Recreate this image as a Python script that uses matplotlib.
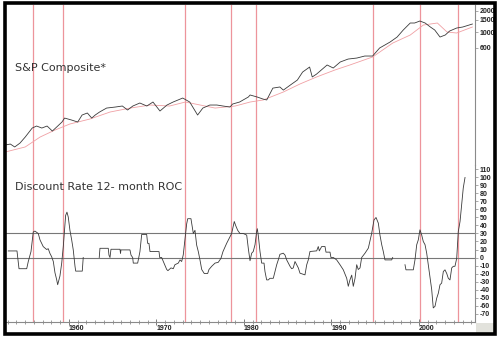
import numpy as np
import matplotlib
matplotlib.use("Agg")
import matplotlib.pyplot as plt
from matplotlib.patches import Rectangle

# ---------------- data ----------------
sp_years = [1952.7, 1953.3, 1953.8, 1954.4, 1955.0, 1955.8, 1956.3, 1956.9, 1957.5, 1958.1,
            1958.6, 1959.2, 1959.5, 1960.3, 1961.0, 1961.5, 1962.1, 1962.6, 1963.0, 1963.5,
            1964.3, 1965.3, 1966.1, 1966.7, 1967.3, 1968.1, 1968.9, 1969.6, 1970.4, 1971.2,
            1971.9, 1973.0, 1973.8, 1974.7, 1975.3, 1976.1, 1976.9, 1977.6, 1978.4, 1978.7,
            1979.5, 1980.5, 1980.7, 1981.5, 1982.2, 1982.6, 1983.3, 1984.1, 1984.5, 1985.3,
            1986.1, 1986.7, 1987.5, 1987.8, 1988.3, 1989.5, 1990.2, 1991.0, 1991.9, 1992.9,
            1993.8, 1994.7, 1995.5, 1996.7, 1997.5, 1998.2, 1999.0, 1999.5, 2000.1, 2000.7,
            2001.3, 2001.8, 2002.4, 2003.0, 2003.5, 2004.3, 2005.0, 2006.1]
sp_values = [24.3, 25.1, 22.8, 25.9, 31.6, 42.5, 45.4, 42.5, 45.4, 38.5,
             44.0, 51.8, 59.0, 55.3, 51.8, 65.2, 69.7, 59.0, 65.2, 72.0,
             82.0, 84.8, 87.7, 76.9, 87.7, 96.8, 87.7, 100.0, 74.4, 90.6,
             100.0, 114.0, 100.0, 65.2, 82.0, 90.6, 90.6, 87.7, 84.8, 93.6,
             100.0, 118.0, 126.0, 118.0, 110.0, 107.0, 158.0, 164.0, 148.0, 175.0,
             206.0, 268.0, 316.0, 228.0, 251.0, 338.0, 306.0, 373.0, 411.0, 425.0,
             454.0, 454.0, 591.0, 720.0, 848.0, 1068.0, 1345.0, 1345.0, 1436.0, 1345.0,
             1179.0, 1068.0, 848.0, 906.0, 1033.0, 1140.0, 1179.0, 1301.0]

ma_years = [1952.7, 1955.0, 1956.7, 1958.4, 1960.1, 1962.4, 1964.7, 1967.0, 1969.3, 1971.5,
            1973.3, 1975.0, 1976.7, 1979.0, 1980.7, 1982.2, 1984.5, 1986.4, 1988.3, 1990.4,
            1992.1, 1994.7, 1997.0, 1999.0, 2000.5, 2002.1, 2003.2, 2004.3, 2006.1]
ma_values = [19.3, 22.8, 31.6, 39.8, 48.5, 57.2, 72.0, 82.0, 90.6, 87.7,
             100.0, 90.6, 82.0, 87.7, 100.0, 107.0, 139.0, 181.0, 228.0, 287.0,
             338.0, 440.0, 696.0, 906.0, 1259.0, 1345.0, 1000.0, 968.0, 1179.0]

roc_years = [1953.06, 1954.02, 1954.06, 1954.29, 1955.17, 1955.35, 1955.66, 1955.92, 1956.11, 1956.49,
             1956.69, 1957.06, 1957.45, 1957.63, 1957.83, 1958.02, 1958.21, 1958.40, 1958.59, 1958.71,
             1958.97, 1959.17, 1959.35, 1959.62, 1959.77, 1959.92, 1960.11, 1960.31, 1960.49, 1960.69,
             1960.77, 1961.52, 1961.63, 1962.5,
             1963.46, 1963.54, 1964.49, 1964.57, 1964.69, 1964.80, 1965.83, 1965.89, 1965.94, 1966.97,
             1967.09, 1967.28, 1967.35, 1967.85, 1968.11, 1968.31, 1968.88, 1968.99, 1969.14, 1969.26,
             1970.29, 1970.37, 1970.59, 1970.86, 1971.17, 1971.31, 1971.66, 1971.92, 1972.11, 1972.49,
             1972.69, 1972.88, 1973.06, 1973.45, 1973.57, 1973.94, 1974.09, 1974.21, 1974.40, 1974.59,
             1974.78, 1974.97, 1975.17, 1975.46, 1975.85, 1976.00, 1976.31, 1976.69, 1977.06, 1977.37,
             1977.60, 1978.02, 1978.40, 1978.59, 1978.89, 1979.05, 1979.28, 1979.54, 1979.92, 1980.31,
             1980.51, 1980.69, 1980.88, 1981.06, 1981.26, 1981.45, 1981.52, 1981.63, 1981.83, 1982.02,
             1982.29, 1982.40, 1982.59, 1982.78, 1982.97, 1983.35, 1983.54, 1983.74, 1983.92, 1984.11,
             1984.49, 1984.69, 1984.88, 1985.26, 1985.45, 1985.63, 1985.83, 1986.02, 1986.21, 1986.40,
             1986.97, 1987.17, 1987.35, 1987.54, 1988.31, 1988.49, 1988.61, 1988.88, 1989.26, 1989.37,
             1989.83, 1989.94, 1990.21, 1990.59, 1990.97, 1991.35, 1991.74, 1991.92, 1992.11, 1992.31,
             1992.49, 1992.69, 1992.88, 1993.06, 1993.26, 1993.45, 1993.83, 1994.21, 1994.59, 1994.86,
             1995.09, 1995.35, 1995.54, 1995.74, 1995.92, 1996.11, 1996.88, 1996.99, 1997.7,
             1998.40, 1998.51, 1999.35, 1999.54, 1999.74, 1999.92, 2000.11, 2000.31, 2000.49, 2000.69,
             2000.88, 2001.06, 2001.26, 2001.45, 2001.63, 2001.83, 2002.02, 2002.21, 2002.40, 2002.59,
             2002.78, 2002.97, 2003.17, 2003.35, 2003.54, 2003.74, 2003.92, 2004.11, 2004.31, 2004.49,
             2004.69, 2004.88, 2005.06, 2005.26]
roc_values = [8.2, 8.2, 8.2, -14, -14, -5, 7.4, 32, 33, 30,
              22, 13.6, 10, 11, 5, 1, -5, -19, -27.5, -34,
              -23, -7, 13.6, 52.6, 56.7, 50.5, 34, 22, 9.5, -11,
              -17, -17, 0, np.nan,
              0, 11.5, 11.5, 3, 0, 10.3, 10.3, 5, 9.5, 9.5,
              3, 0, -7, -7, 7.4, 28.8, 28.8, 17.7, 17.7, 7.4,
              7.4, 0, 0, -7, -15, -16.4, -13, -14, -9, -7,
              -3, -5, 3.3, 42, 48.5, 48.5, 38, 30, 34, 15.6,
              7.4, -3, -15, -20, -20, -15, -11, -7, -6, -1,
              7.4, 17.7, 26, 30, 45, 40, 34, 30, 30, 28,
              10, -4, 5.4, 7.5, 16, 32.5, 36, 28, 7.5, -7,
              -7, -17.5, -28, -28, -26, -26, -17.5, -9, -3, 4,
              5.4, 3, -3, -11, -14, -13, -5, -9, -13, -19.6,
              -21.7, -9, -3, 7.5, 8.3, 13.7, 8.3, 13.7, 13.7, 6.7,
              6.7, 0, 0, -3, -9, -15.4, -26, -36, -28, -22,
              -36, -26, -9, -15, -13, 0, 5.4, 11.7, 30, 47,
              50, 43, 28, 16, 7.5, -3, -3, 0, np.nan,
              -9, -15.4, -15.4, -3, 16, 22, 34.6, 28, 20, 16,
              5.4, -9, -26, -40, -63, -61, -51, -44.6, -34, -32,
              -17.5, -15.4, -20, -26, -28, -13, -11, -11, -1, 32.5,
              45, 66, 87, 100]

signal_years = [1955.89, 1959.31, 1973.26, 1978.51, 1981.37, 1994.74, 2000.11, 2004.46]
ref_levels = [0, 30]

sp_ticks = [2000, 1500, 1000, 600]
sp_ticklabels = ["2000", "1500", "1000", "600"]
roc_ticks = list(range(-70, 111, 10))
year_ticks = [1960, 1970, 1980, 1990, 2000]

# ---------------- figure ----------------
W, H = 500, 337
fig = plt.figure(figsize=(W / 100, H / 100), dpi=100)
fig.patch.set_facecolor("white")

def fx(px):
    return px / W

def fy(py):
    return 1 - py / H

left, right = 5, 475
ax_top = fig.add_axes([fx(left), fy(165), fx(right - left), (165 - 5) / H])
ax_bot = fig.add_axes([fx(left), fy(322), fx(right - left), (322 - 165) / H])

xlim = (1952.69, 2006.40)
line_col = "#3a3a3a"
red_col = "#e8707a"
tick_font = dict(family="Liberation Sans", size=5, weight="bold")

for ax in (ax_top, ax_bot):
    ax.set_xlim(*xlim)
    ax.set_facecolor("none")
    for s in ("left", "top"):
        ax.spines[s].set_visible(False)
    ax.spines["right"].set_color("#8a8a8a")
    ax.spines["right"].set_linewidth(0.8)
    ax.yaxis.tick_right()
    ax.tick_params(axis="y", which="both", direction="out", length=2, width=0.5,
                   colors="#888888", labelcolor="#222222", pad=1.5)
    for yv in signal_years:
        ax.axvline(yv, color=red_col, lw=0.9, alpha=0.75, zorder=1)

# top panel
ax_top.spines["bottom"].set_visible(False)
ax_top.set_yscale("log")
ax_top.set_ylim(12.6, 2432)
ax_top.plot(ma_years, ma_values, color="#f0a0a4", lw=0.6, zorder=2)
ax_top.plot(sp_years, sp_values, color=line_col, lw=0.6, zorder=3)
ax_top.set_yticks(sp_ticks)
ax_top.set_yticklabels(sp_ticklabels)
ax_top.yaxis.set_minor_locator(matplotlib.ticker.NullLocator())
ax_top.set_xticks([])
for lbl in ax_top.get_yticklabels():
    lbl.set_fontproperties(matplotlib.font_manager.FontProperties(**tick_font))
ax_top.text(fx(15 - left) / fx(right - left), 1 - (68 - 5) / 160, "S&P Composite*",
            transform=ax_top.transAxes, fontsize=8, color="#333333",
            ha="left", va="center", family="DejaVu Sans")

# bottom panel
ax_bot.set_ylim(-80.6, 115.6)
for lv in ref_levels:
    ax_bot.axhline(lv, color="#777777", lw=0.8, zorder=2)
ax_bot.plot(roc_years, roc_values, color=line_col, lw=0.6, zorder=3)
ax_bot.set_yticks(roc_ticks)
ax_bot.set_yticklabels([str(t) for t in roc_ticks])
for lbl in ax_bot.get_yticklabels():
    lbl.set_fontproperties(matplotlib.font_manager.FontProperties(**tick_font))
ax_bot.spines["bottom"].set_color("#8a8a8a")
ax_bot.spines["bottom"].set_linewidth(0.8)
ax_bot.set_xticks(year_ticks)
ax_bot.set_xticklabels([str(y) for y in year_ticks])
ax_bot.set_xticks(list(range(1953, 2007)), minor=True)
ax_bot.tick_params(axis="x", which="major", direction="inout", length=4, width=0.6,
                   colors="#666666", labelcolor="#222222", pad=0.5)
ax_bot.tick_params(axis="x", which="minor", direction="inout", length=2.5, width=0.5,
                   colors="#777777")
for lbl in ax_bot.get_xticklabels():
    lbl.set_fontproperties(matplotlib.font_manager.FontProperties(**tick_font))
    lbl.set_ha("left")
ax_bot.text(fx(15 - left) / fx(right - left), (322 - 187) / 157, "Discount Rate 12- month ROC",
            transform=ax_bot.transAxes, fontsize=8, color="#333333",
            ha="left", va="center", family="DejaVu Sans")

# shadow corner and outer frame
fig.patches.append(Rectangle((fx(476), fy(333)), fx(494 - 476), (333 - 323) / H,
                             transform=fig.transFigure, facecolor="#e2e2dc",
                             edgecolor="none", zorder=0))
fig.patches.append(Rectangle((fx(4.5), fy(333.5)), fx(495 - 4.5), (333.5 - 3.3) / H,
                             transform=fig.transFigure, facecolor="none",
                             edgecolor="black", linewidth=2.6, zorder=10))

fig.savefig("out.png", dpi=100)
